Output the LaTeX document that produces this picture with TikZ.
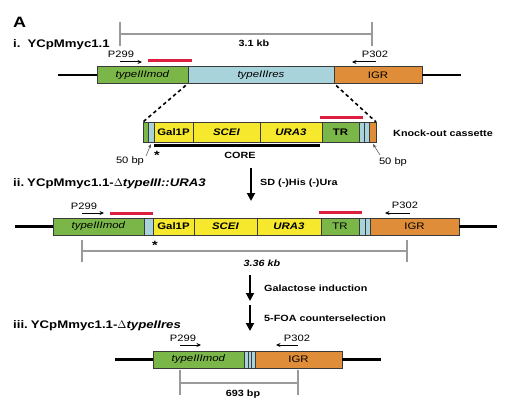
\documentclass[tikz,border=0pt]{standalone}
\usepackage{fontspec}
\setmainfont{Liberation Sans}[FakeStretch=1.2]
\usetikzlibrary{arrows.meta}
\definecolor{gG}{HTML}{7AB648}
\definecolor{gB}{HTML}{A9D3DA}
\definecolor{gO}{HTML}{DF8D38}
\definecolor{gY}{HTML}{F6E82C}
\definecolor{gR}{HTML}{DC1F3F}
\definecolor{gS}{HTML}{9A9A9A}
\definecolor{gE}{HTML}{3A3A3A}
\newcommand\seg[7]{\node[segbox,fill=#6,minimum width={#3-#2},minimum height=#5] (#1) at ({(#2+#3)/2},#4) {#7};}
\tikzset{
  segbox/.style={draw=gE,line width=0.8pt,inner sep=0pt,outer sep=0pt,font=\fontsize{9.5}{10}\selectfont},
  dna/.style={line width=2.3pt,black},
  barbox/.style={inner sep=0pt,outer sep=0pt,minimum height=3pt},
  sbar/.style={draw=gS,line width=1.3pt},
  dsh/.style={line width=1.6pt,dash pattern=on 3.5pt off 3pt,shorten <=3pt},
  primer/.style={line width=1pt,-{Stealth[length=4.5pt,width=4pt]}},
  bigarrow/.style={line width=1.8pt,-{Triangle[length=8pt,width=8pt]}},
  thinarrow/.style={line width=0.5pt,black!70,-{Stealth[length=4pt,width=3pt]}},
  lbl/.style={inner sep=0pt,font=\fontsize{9.3}{10}\selectfont},
  blbl/.style={inner sep=0pt,font=\fontsize{9}{10}\selectfont\bfseries},
  ttl/.style={inner sep=0pt,anchor=base west,font=\fontsize{11}{12}\selectfont\bfseries},
}
\begin{document}
\begin{tikzpicture}[x=1pt,y=-1pt]
\useasboundingbox (0,0) rectangle (514,412);
% ---------- Row i ----------
\node[ttl,font=\fontsize{15}{16}\selectfont\bfseries] (A) at (13,28) {A};
\node[ttl] (ti) at (13,48) {i.\hspace{7pt}YCpMmyc1.1};
\coordinate (sAl1) at (120,22); \coordinate (sAl2) at (120,46);
\coordinate (sAr1) at (372,22); \coordinate (sAr2) at (372,46);
\coordinate (sAl) at (120,34); \coordinate (sAr) at (372,34);
\draw[sbar] (sAl1) -- (sAl2); \draw[sbar] (sAr1) -- (sAr2); \draw[sbar] (sAl) -- (sAr);
\node[blbl,anchor=base] (kbA) at (254,47) {3.1 kb};
\node[lbl,anchor=base] (p299A) at (121,58) {P299};
\coordinate (p299As) at (120,62); \coordinate (p299Ae) at (142,62);
\draw[primer] (p299As) -- (p299Ae);
\node[lbl,anchor=base] (p302A) at (375,58) {P302};
\coordinate (p302As) at (376,62); \coordinate (p302Ae) at (352,62);
\draw[primer] (p302As) -- (p302Ae);
\node[barbox,fill=gR,minimum width=44] (redA) at (170,61) {};
\seg{modA}{97}{188}{75}{17}{gG}{\textit{typeIIImod}}
\seg{resA}{188}{334}{75}{17}{gB}{\textit{typeIIIres}}
\seg{igrA}{334}{422}{75}{17}{gO}{IGR}
\coordinate (lA) at (58,75); \coordinate (rA) at (461,75);
\draw[dna] (lA) -- (modA.west); \draw[dna] (igrA.east) -- (rA);
% ---------- Cassette ----------
\seg{c1}{143}{148}{132}{20}{gG}{}
\seg{c2}{148}{154}{132}{20}{gB}{}
\seg{c3}{154}{193}{132}{20}{gY}{\textbf{Gal1P}}
\seg{c4}{193}{260}{132}{20}{gY}{\textbf{\textit{SCEI}}}
\seg{c5}{260}{322}{132}{20}{gY}{\textbf{\textit{URA3}}}
\seg{c6}{322}{359}{132}{20}{gG}{\textbf{TR}}
\seg{c7}{359}{364}{132}{20}{gB}{}
\seg{c8}{364}{369}{132}{20}{gB}{}
\seg{c9}{369}{376}{132}{20}{gO}{}
\draw[dsh] (modA.south east) -- (c1.north west);
\draw[dsh] (igrA.south west) -- (c9.north east);
\node[barbox,fill=gR,minimum width=43] (redC) at (341.5,117) {};
\node[barbox,fill=black,minimum width=166] (core) at (237,145.5) {};
\node[blbl] (corelbl) at (240,155) {CORE};
\node[blbl,font=\fontsize{12}{12}\selectfont\bfseries] (starC) at (157,155) {*};
\node[lbl] (bpL) at (130,161) {50 bp};
\node[lbl] (bpR) at (393,162) {50 bp};
\coordinate (aL1) at (146,156); \coordinate (aL2) at (151,144);
\coordinate (aR1) at (380,155); \coordinate (aR2) at (373,144);
\draw[thinarrow] (aL1) -- (aL2); \draw[thinarrow] (aR1) -- (aR2);
\node[blbl,anchor=west] (kocas) at (393,133) {Knock-out cassette};
% ---------- Row ii ----------
\node[ttl] (tii) at (13,186) {ii.\hspace{3pt}YCpMmyc1.1-$\Delta$\textit{typeIII::URA3}};
\coordinate (ar1s) at (251,168); \coordinate (ar1e) at (251,201);
\draw[bigarrow] (ar1s) -- (ar1e);
\node[blbl,anchor=west] (sd) at (260,183) {SD (-)His (-)Ura};
\node[lbl,anchor=base] (p299B) at (84,209) {P299};
\coordinate (p299Bs) at (82,213); \coordinate (p299Be) at (104,213);
\draw[primer] (p299Bs) -- (p299Be);
\node[barbox,fill=gR,minimum width=43] (redB1) at (131.5,213) {};
\node[barbox,fill=gR,minimum width=43] (redB2) at (340.5,212) {};
\node[lbl,anchor=base] (p302B) at (405,208) {P302};
\coordinate (p302Bs) at (410,213); \coordinate (p302Be) at (385,213);
\draw[primer] (p302Bs) -- (p302Be);
\seg{modB}{53}{144}{226.5}{17}{gG}{\textit{typeIIImod}}
\seg{b2}{144}{153}{226.5}{17}{gB}{}
\seg{b3}{153}{194}{226.5}{17}{gY}{\textbf{Gal1P}}
\seg{b4}{194}{257}{226.5}{17}{gY}{\textbf{\textit{SCEI}}}
\seg{b5}{257}{321}{226.5}{17}{gY}{\textbf{\textit{URA3}}}
\seg{b6}{321}{359}{226.5}{17}{gG}{TR}
\seg{b7}{359}{365}{226.5}{17}{gB}{}
\seg{b8}{365}{370}{226.5}{17}{gB}{}
\seg{igrB}{370}{459}{226.5}{17}{gO}{IGR}
\coordinate (lB) at (15,226.5); \coordinate (rB) at (497,226.5);
\draw[dna] (lB) -- (modB.west); \draw[dna] (igrB.east) -- (rB);
\node[blbl,font=\fontsize{12}{12}\selectfont\bfseries] (starB) at (155,245) {*};
\coordinate (sBl1) at (82,240); \coordinate (sBl2) at (82,262);
\coordinate (sBr1) at (407,240); \coordinate (sBr2) at (407,262);
\coordinate (sBl) at (82,251); \coordinate (sBr) at (407,251);
\draw[sbar] (sBl1) -- (sBl2); \draw[sbar] (sBr1) -- (sBr2); \draw[sbar] (sBl) -- (sBr);
\node[blbl] (kbB) at (262,263) {\textit{3.36 kb}};
% ---------- Arrows ----------
\coordinate (ar2s) at (250,275); \coordinate (ar2e) at (250,301);
\draw[bigarrow] (ar2s) -- (ar2e);
\node[blbl,anchor=west] (gal) at (264,288) {Galactose induction};
\coordinate (ar3s) at (250,305); \coordinate (ar3e) at (250,331);
\draw[bigarrow] (ar3s) -- (ar3e);
\node[blbl,anchor=west] (foa) at (264,318) {5-FOA counterselection};
% ---------- Row iii ----------
\node[ttl] (tiii) at (13,328) {iii.\hspace{3pt}YCpMmyc1.1-$\Delta$\textit{typeIIres}};
\node[lbl,anchor=base] (p299C) at (183,341) {P299};
\coordinate (p299Cs) at (180,345); \coordinate (p299Ce) at (201,345);
\draw[primer] (p299Cs) -- (p299Ce);
\node[lbl,anchor=base] (p302C) at (297,341) {P302};
\coordinate (p302Cs) at (298,345); \coordinate (p302Ce) at (276,345);
\draw[primer] (p302Cs) -- (p302Ce);
\seg{modC}{153}{244}{359.5}{17}{gG}{\textit{typeIIImod}}
\seg{d2}{244}{248}{359.5}{17}{gB}{}
\seg{d3}{248}{251}{359.5}{17}{gB}{}
\seg{d4}{251}{255}{359.5}{17}{gB}{}
\seg{igrC}{255}{342}{359.5}{17}{gO}{IGR}
\coordinate (lC) at (115,359.5); \coordinate (rC) at (381,359.5);
\draw[dna] (lC) -- (modC.west); \draw[dna] (igrC.east) -- (rC);
\coordinate (sCl1) at (180,370); \coordinate (sCl2) at (180,395);
\coordinate (sCr1) at (298,370); \coordinate (sCr2) at (298,395);
\coordinate (sCl) at (180,383); \coordinate (sCr) at (298,383);
\draw[sbar] (sCl1) -- (sCl2); \draw[sbar] (sCr1) -- (sCr2); \draw[sbar] (sCl) -- (sCr);
\node[blbl] (bpC) at (243,394) {693 bp};
\end{tikzpicture}
\end{document}
